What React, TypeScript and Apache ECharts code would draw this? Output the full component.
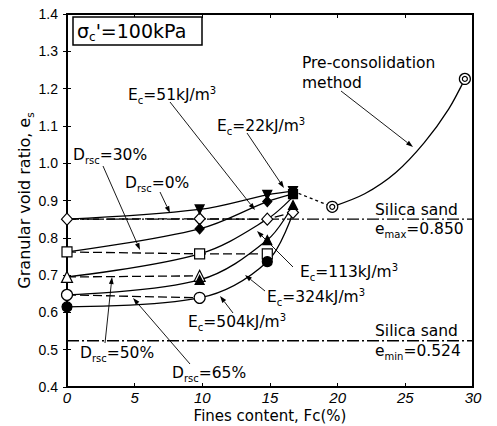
import React, { useEffect, useRef } from "react";
import * as echarts from "echarts";

// ---------- data ----------
const xTicks = [0, 5, 10, 15, 20, 25, 30];
const yTicks = [0.4, 0.5, 0.6, 0.7, 0.8, 0.9, 1.0, 1.1, 1.2, 1.3, 1.4];
const sandEmax = 0.85;
const sandEmin = 0.524;

// constant Drsc (dashed) lines
const drsc0 = [[0, 0.85], [9.8, 0.851], [14.8, 0.85], [16.7, 0.868]];
const drsc30 = [[0, 0.762], [9.8, 0.757], [14.8, 0.757]];
const drsc50 = [[0, 0.695], [9.8, 0.698]];
const drsc65 = [[0, 0.647], [9.8, 0.639]];

// compaction energy (solid) curves
const e22 = [[0, 0.85], [9.8, 0.876], [14.8, 0.915], [16.7, 0.925]];
const e51 = [[0, 0.762], [9.8, 0.824], [14.8, 0.897], [16.7, 0.918]];
const e113 = [[0, 0.695], [9.8, 0.757], [14.8, 0.85], [16.7, 0.91]];
const e324 = [[0, 0.647], [9.8, 0.687], [14.8, 0.794], [16.7, 0.888]];
const e504 = [[0, 0.615], [9.8, 0.639], [14.8, 0.736], [16.7, 0.868]];

// pre-consolidation method
const preDotted = [[16.7, 0.925], [19.6, 0.883]];
const preCurve = [[19.6, 0.883], [22.0, 0.918], [24.3, 0.975], [26.4, 1.055], [28.2, 1.145], [29.4, 1.226]];
const prePoints = [[19.6, 0.883], [29.4, 1.226]];

// markers
const openDiamond = [[0, 0.85], [9.8, 0.851], [14.8, 0.85], [16.7, 0.868]];
const openSquare = [[0, 0.762], [9.8, 0.757], [14.8, 0.757]];
const openTriangle = [[0, 0.695], [9.8, 0.698]];
const openCircle = [[0, 0.647], [9.8, 0.639]];
const filledCircle = [[0, 0.615], [14.8, 0.736]];
const filledTriDown = [[9.8, 0.876], [14.8, 0.915], [16.7, 0.925]];
const filledDiamond = [[9.8, 0.824], [14.8, 0.897]];
const filledSquare = [[16.7, 0.917]];
const filledTriangle = [[9.8, 0.687], [14.8, 0.794], [16.7, 0.888]];

// ---------- styles ----------
const FONT = "DejaVu Sans";
const TICKFONT = "Liberation Sans";

const rich = {
  m: { fontSize: 15.5, fontFamily: FONT, color: "#000", lineHeight: 20 },
  b: { fontSize: 19, fontFamily: FONT, color: "#000", lineHeight: 24 },
  s: { fontSize: 10, fontFamily: FONT, color: "#000", verticalAlign: "bottom" },
  bs: { fontSize: 12, fontFamily: FONT, color: "#000", verticalAlign: "bottom" },
  p: { fontSize: 10, fontFamily: FONT, color: "#000", verticalAlign: "top" },
};

const ec = (v: string) => `{m|E}{s|c}{m|=${v}kJ/m}{p|3}`;
const dr = (v: string) => `{m|D}{s|rsc}{m|=${v}%}`;

function arrow(x1: number, y1: number, x2: number, y2: number) {
  const a = Math.atan2(y2 - y1, x2 - x1);
  const L = 7, W = 2.4;
  const bx = x2 - L * Math.cos(a), by = y2 - L * Math.sin(a);
  const px = -Math.sin(a) * W, py = Math.cos(a) * W;
  return [
    { type: "line", silent: true, shape: { x1, y1, x2: bx, y2: by }, style: { stroke: "#000", lineWidth: 0.9 } },
    { type: "polygon", silent: true, shape: { points: [[x2, y2], [bx + px, by + py], [bx - px, by - py]] }, style: { fill: "#000" } },
  ];
}

function label(text: string, x: number, y: number) {
  return {
    type: "text",
    silent: true,
    x,
    y,
    style: { text, rich, align: "left", verticalAlign: "middle", textAlign: "left", textVerticalAlign: "middle" },
  };
}

const notes: any[] = [
  { t: ec("51"), x: 128, y: 95, a: [170, 102, 255, 210] },
  { t: ec("22"), x: 217, y: 126, a: [247, 133, 284, 188] },
  { t: "{m|Pre-consolidation}", x: 302, y: 63 },
  { t: "{m|method}", x: 302, y: 83, a: [341, 91, 413, 147] },
  { t: dr("30"), x: 73, y: 155, a: [103, 166, 140, 250] },
  { t: dr("0"), x: 125, y: 183, a: [160, 192, 170, 213] },
  { t: dr("50"), x: 80, y: 353, a: [105, 343, 112, 277] },
  { t: dr("65"), x: 172, y: 373, a: [190, 364, 133, 298] },
  { t: ec("504"), x: 188, y: 322, a: [233, 313, 220, 296] },
  { t: ec("324"), x: 267, y: 297, a: [265, 291, 245, 275] },
  { t: ec("113"), x: 300, y: 272, a: [293, 267, 257, 231] },
  { t: "{m|Silica sand}", x: 375, y: 210 },
  { t: "{m|e}{s|max}{m|=0.850}", x: 375, y: 229 },
  { t: "{m|Silica sand}", x: 375, y: 331 },
  { t: "{m|e}{s|min}{m|=0.524}", x: 375, y: 351 },
];

const graphics: any[] = [
  { type: "rect", silent: true, shape: { x: 73, y: 17, width: 129, height: 28 }, style: { fill: "#fff", stroke: "#000", lineWidth: 1.5 }, z: 10 },
  { ...label("{b|σ}{bs|c}{b|'=100kPa}", 77, 31), z: 11 },
];
notes.forEach((n) => {
  graphics.push(label(n.t, n.x, n.y));
  if (n.a) graphics.push(...arrow(n.a[0], n.a[1], n.a[2], n.a[3]));
});

const curve = (data: number[][], type: any, smooth: number | boolean = 0.35) => ({
  type: "line",
  data,
  symbol: "none",
  showSymbol: false,
  smooth,
  silent: true,
  lineStyle: { color: "#000", width: 1.3, type },
  z: 2,
});

const marks = (data: number[][], symbol: string, size: any, filled: boolean, rotate = 0) => ({
  type: "scatter",
  data,
  symbol,
  symbolSize: size,
  symbolRotate: rotate,
  silent: true,
  itemStyle: { color: filled ? "#000" : "#fff", borderColor: "#000", borderWidth: 1.2, opacity: 1 },
  z: 5,
});

const option: any = {
  animation: false,
  backgroundColor: "#fff",
  grid: { left: 67, right: 24, top: 14, bottom: 39, containLabel: false, outerBoundsMode: "none", show: true, borderColor: "#000", borderWidth: 2 },
  xAxis: [
    {
      type: "value",
      min: xTicks[0],
      max: xTicks[xTicks.length - 1],
      interval: 5,
      name: "Fines content, Fc(%)",
      nameLocation: "middle",
      nameGap: 21,
      nameMoveOverlap: false,
      nameTextStyle: { fontFamily: FONT, fontSize: 15, color: "#000" },
      axisLine: { lineStyle: { color: "#000", width: 2 } },
      axisTick: { inside: true, length: 4, lineStyle: { color: "#000" } },
      axisLabel: { fontFamily: TICKFONT, fontSize: 15, fontStyle: "italic", color: "#000", margin: 3 },
      splitLine: { show: false },
    },
    {
      type: "value",
      position: "top",
      min: xTicks[0],
      max: xTicks[xTicks.length - 1],
      interval: 5,
      axisLine: { lineStyle: { color: "#000", width: 2 } },
      axisTick: { inside: true, length: 4, lineStyle: { color: "#000" } },
      axisLabel: { show: false },
      splitLine: { show: false },
    },
  ],
  yAxis: [
    {
      type: "value",
      min: yTicks[0],
      max: yTicks[yTicks.length - 1],
      interval: 0.1,
      name: "{m|Granular void ratio, e}{s|s}",
      nameLocation: "middle",
      nameGap: 32,
      nameMoveOverlap: false,
      nameTextStyle: {
        rich: {
          m: { fontSize: 16, fontFamily: FONT, color: "#000", lineHeight: 21 },
          s: { fontSize: 10.5, fontFamily: FONT, color: "#000", verticalAlign: "bottom" },
        },
      },
      axisLine: { lineStyle: { color: "#000", width: 2 } },
      axisTick: { inside: true, length: 4, lineStyle: { color: "#000" } },
      axisLabel: { fontFamily: TICKFONT, fontSize: 14, color: "#000", margin: 9, formatter: (v: number) => v.toFixed(1) },
      splitLine: { show: false },
    },
    {
      type: "value",
      position: "right",
      min: yTicks[0],
      max: yTicks[yTicks.length - 1],
      interval: 0.1,
      axisLine: { lineStyle: { color: "#000", width: 2 } },
      axisTick: { inside: true, length: 4, lineStyle: { color: "#000" } },
      axisLabel: { show: false },
      splitLine: { show: false },
    },
  ],
  series: [
    curve([[xTicks[0], sandEmax], [xTicks[xTicks.length - 1], sandEmax]], [12, 3, 2, 3], false),
    curve([[xTicks[0], sandEmin], [xTicks[xTicks.length - 1], sandEmin]], [12, 3, 2, 3], false),
    curve(drsc0, [9, 4], false),
    curve(drsc30, [9, 4], false),
    curve(drsc50, [9, 4], false),
    curve(drsc65, [9, 4], false),
    curve(e22, "solid"),
    curve(e51, "solid"),
    curve(e113, "solid"),
    curve(e324, "solid"),
    curve(e504, "solid"),
    curve(preDotted, [3, 3], false),
    curve(preCurve, "solid", 0.3),
    marks(openDiamond, "diamond", [11, 12], false),
    marks(openSquare, "rect", 10, false),
    marks(openTriangle, "triangle", 11, false),
    marks(openCircle, "circle", 11, false),
    marks(filledCircle, "circle", 10, true),
    marks(filledTriDown, "triangle", 9, true, 180),
    marks(filledDiamond, "diamond", [9, 10], true),
    marks(filledSquare, "rect", 9, true),
    marks(filledTriangle, "triangle", 9, true),
    marks(prePoints, "circle", 11, false),
    marks(prePoints, "circle", 5, false),
  ],
  graphic: graphics,
};

export default function App() {
  const ref = useRef<HTMLDivElement>(null);
  useEffect(() => {
    const chart = echarts.init(ref.current!, null, { renderer: "svg" });
    chart.setOption(option);
    return () => chart.dispose();
  }, []);
  return (
    <div
      ref={ref}
      style={{ position: "fixed", left: 0, top: 0, width: 497, height: 426, background: "#fff" }}
    />
  );
}
